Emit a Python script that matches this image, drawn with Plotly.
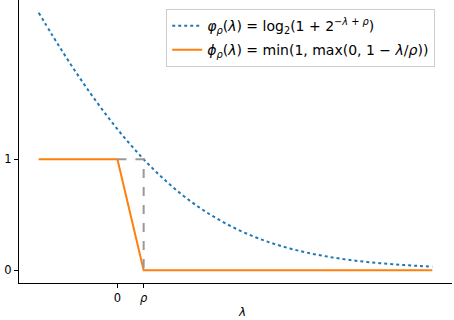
import plotly.graph_objects as go

# valores (rho = 0.5)
rho = 0.5
lam_curva = [-1.5, -1.25, -1.0, -0.75, -0.5, -0.25, 0.0, 0.25, 0.5, 0.75, 1.0,
             1.25, 1.5, 1.75, 2.0, 2.25, 2.5, 2.75, 3.0, 3.25, 3.5, 3.75, 4.0,
             4.25, 4.5, 4.75, 5.0, 5.25, 5.5, 5.75, 6.0]
varphi = [2.3219, 2.1256, 1.9367, 1.7564, 1.5850, 1.4233, 1.2716, 1.1305, 1.0,
          0.8805, 0.7716, 0.6732, 0.5850, 0.5063, 0.4369, 0.3756, 0.3219,
          0.2753, 0.2349, 0.2000, 0.1699, 0.1442, 0.1222, 0.1034, 0.0875,
          0.0740, 0.0624, 0.0527, 0.0444, 0.0375, 0.0316]

lam_phi = [-1.5, 0.0, 0.5, 6.0]
phi = [1, 1, 0, 0]

lam_guia = [0.0, 0.5, 0.5]
guia = [1, 1, 0]

xticks = [0, 0.5]
xticklabels = ['0', '<i>ρ</i>']
yticks = [0, 1]

fig = go.Figure()
fig.add_trace(go.Scatter(
    x=lam_curva, y=varphi, mode='lines', line_shape='spline', legendgroup='a',
    line=dict(color='#1f77b4', width=2, dash='dot'),
    name='<i>φ<sub>ρ</sub></i>(<i>λ</i>) = log<sub>2</sub>(1 + 2<sup>−<i>λ</i> + <i>ρ</i></sup>)'))
fig.add_trace(go.Scatter(
    x=lam_phi, y=phi, mode='lines', legendgroup='b',
    line=dict(color='#ff7f0e', width=2),
    name='<i>ϕ<sub>ρ</sub></i>(<i>λ</i>) = min(1, max(0, 1 − <i>λ</i>/<i>ρ</i>))'))
fig.add_trace(go.Scatter(
    x=lam_guia, y=guia, mode='lines', showlegend=False,
    line=dict(color='#999999', width=2, dash='dash')))

fig.update_layout(
    width=454, height=320,
    margin=dict(l=18.5, r=1.5, t=0, b=37.2),
    plot_bgcolor='white', paper_bgcolor='white',
    font=dict(family='DejaVu Sans', size=11.5, color='black'),
    legend=dict(x=0.34, y=0.968, xanchor='left', yanchor='top',
                bordercolor='#cccccc', borderwidth=1, bgcolor='white',
                font=dict(size=14), traceorder='grouped', tracegroupgap=3),
)
fig.update_xaxes(range=[-1.875, 6.375], tickvals=xticks, ticktext=xticklabels,
                 showgrid=False, zeroline=False, showline=True, linecolor='black',
                 linewidth=1, ticks='outside', ticklen=4, tickcolor='black')
fig.update_yaxes(range=[-0.116, 2.436], tickvals=yticks,
                 showgrid=False, zeroline=False, showline=True, linecolor='black',
                 linewidth=1, ticks='outside', ticklen=4, tickcolor='black')
fig.add_annotation(x=2.38, xref='x', y=-0.102, yref='paper', yanchor='middle',
                   text='<i>λ</i>', showarrow=False, font=dict(size=12))

# quitar el margen por defecto del body de la pagina
fig.write_html("out.html", config={'displayModeBar': False},
               post_script="document.body.style.margin='0px';")
